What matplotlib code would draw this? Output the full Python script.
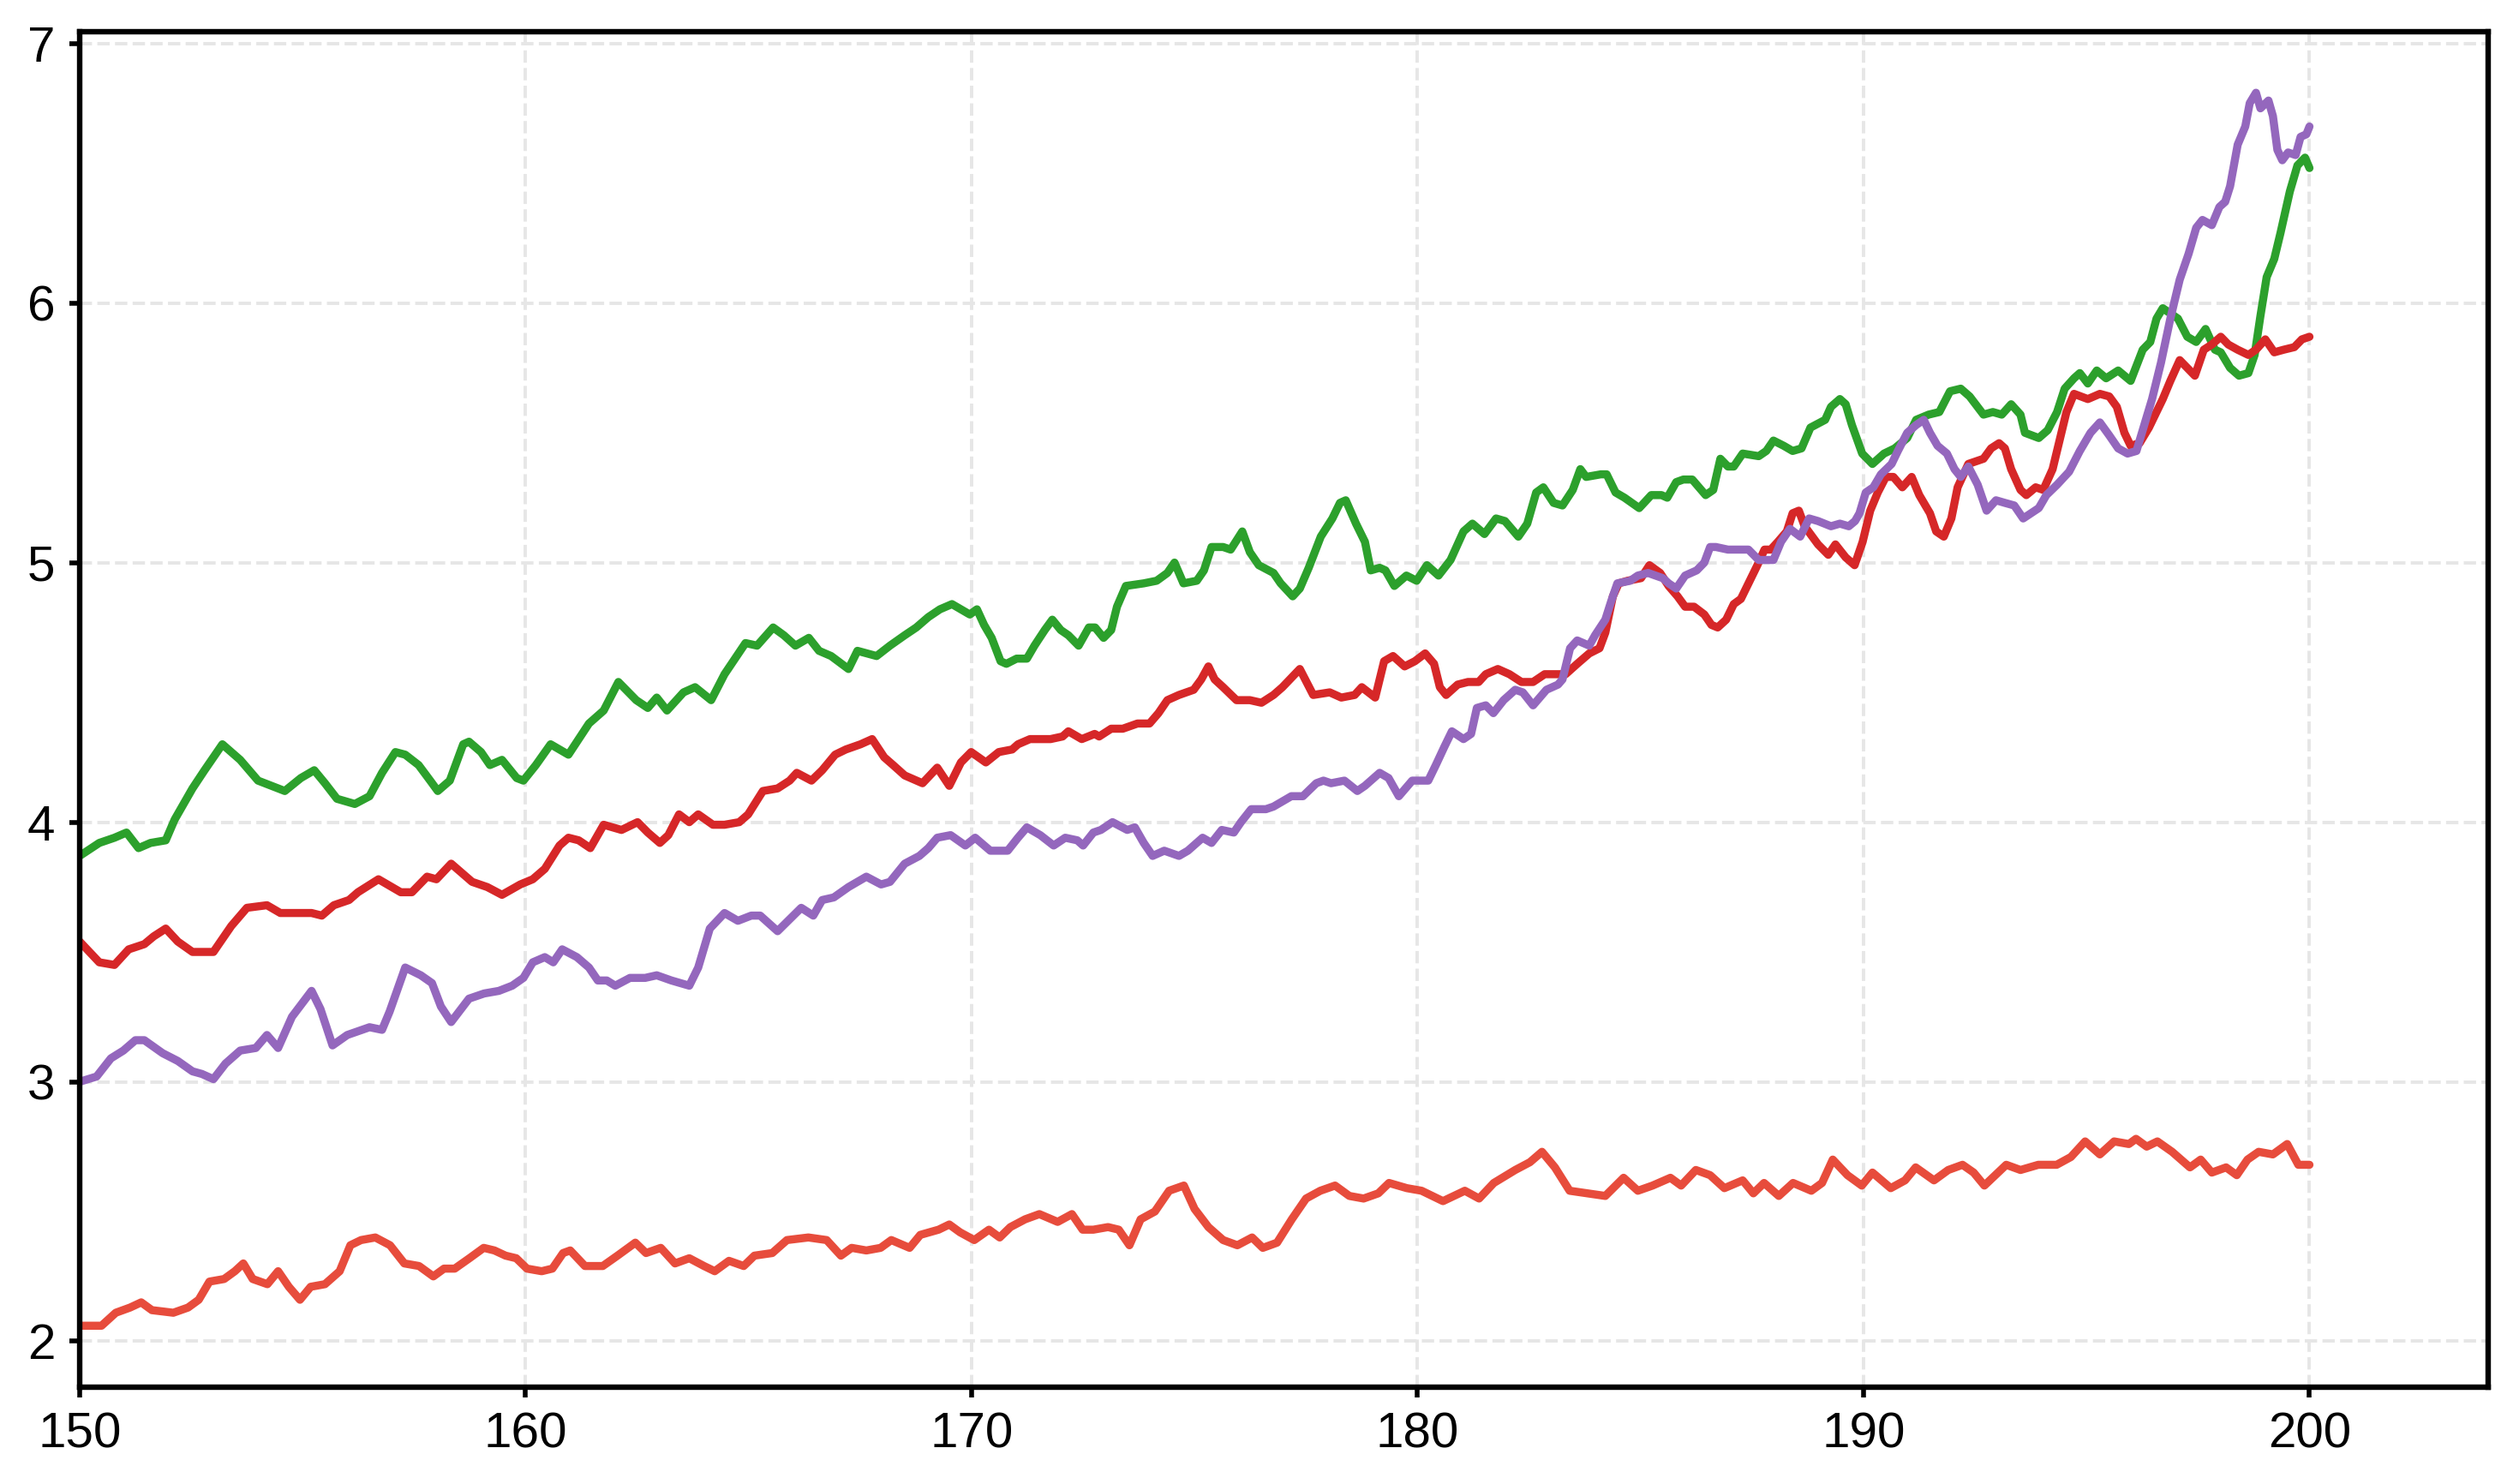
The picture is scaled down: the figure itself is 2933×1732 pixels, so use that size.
import matplotlib
matplotlib.use("Agg")
import matplotlib.pyplot as plt

# ---- data ----
green_x = [150.0, 150.44, 150.78, 151.05, 151.32, 151.59, 151.93, 152.13, 152.53, 152.8, 153.2, 153.6, 154.0, 154.3, 154.6,
           154.96, 155.26, 155.5, 155.77, 156.17, 156.5, 156.78, 157.08, 157.3, 157.6, 157.86, 158.03, 158.3, 158.6, 158.73,
           159.0, 159.2, 159.47, 159.8, 159.95, 160.23, 160.56, 160.96, 161.42, 161.75, 162.08, 162.48, 162.74, 162.94, 163.17,
           163.54, 163.8, 164.16, 164.46, 164.93, 165.19, 165.55, 165.79, 166.05, 166.35, 166.58, 166.85, 167.24, 167.44, 167.87,
           168.17, 168.5, 168.76, 169.03, 169.29, 169.56, 169.96, 170.12, 170.28, 170.45, 170.65, 170.78, 171.01, 171.24, 171.41,
           171.64, 171.81, 172.0, 172.17, 172.4, 172.63, 172.77, 172.96, 173.13, 173.26, 173.46, 173.86, 174.15, 174.39, 174.55,
           174.75, 175.05, 175.21, 175.38, 175.64, 175.81, 176.07, 176.24, 176.44, 176.77, 176.93, 177.2, 177.36, 177.56, 177.83,
           178.09, 178.26, 178.39, 178.62, 178.82, 178.95, 179.15, 179.28, 179.48, 179.75, 179.98, 180.21, 180.47, 180.74, 181.03,
           181.23, 181.5, 181.76, 181.96, 182.26, 182.46, 182.66, 182.82, 183.05, 183.25, 183.48, 183.65, 183.78, 184.11, 184.24,
           184.44, 184.64, 184.97, 185.24, 185.47, 185.6, 185.8, 185.96, 186.16, 186.46, 186.63, 186.79, 186.96, 187.09, 187.29,
           187.65, 187.82, 187.98, 188.21, 188.41, 188.61, 188.81, 189.14, 189.27, 189.47, 189.6, 189.74, 189.97, 190.2, 190.46,
           190.7, 190.98, 191.18, 191.46, 191.7, 191.94, 192.18, 192.38, 192.69, 192.9, 193.1, 193.31, 193.52, 193.62, 193.93,
           194.13, 194.34, 194.51, 194.72, 194.85, 195.03, 195.23, 195.44, 195.71, 195.99, 196.26, 196.43, 196.57, 196.71, 197.05,
           197.26, 197.46, 197.67, 197.88, 198.01, 198.22, 198.42, 198.63, 198.77, 198.9, 199.04, 199.21, 199.35, 199.56, 199.73,
           199.9, 200.0]
green_y = [3.87, 3.92, 3.94, 3.96, 3.90, 3.92, 3.93, 4.01, 4.13, 4.20, 4.30, 4.24, 4.16, 4.14, 4.12,
           4.17, 4.20, 4.15, 4.09, 4.07, 4.10, 4.19, 4.27, 4.26, 4.22, 4.16, 4.12, 4.16, 4.30, 4.31,
           4.27, 4.22, 4.24, 4.17, 4.16, 4.22, 4.30, 4.26, 4.38, 4.43, 4.54, 4.47, 4.44, 4.48, 4.43,
           4.50, 4.52, 4.47, 4.57, 4.69, 4.68, 4.75, 4.72, 4.68, 4.71, 4.66, 4.64, 4.59, 4.66, 4.64,
           4.68, 4.72, 4.75, 4.79, 4.82, 4.84, 4.80, 4.82, 4.76, 4.71, 4.62, 4.61, 4.63, 4.63, 4.68,
           4.74, 4.78, 4.74, 4.72, 4.68, 4.75, 4.75, 4.71, 4.74, 4.83, 4.91, 4.92, 4.93, 4.96, 5.00,
           4.92, 4.93, 4.97, 5.06, 5.06, 5.05, 5.12, 5.04, 4.99, 4.96, 4.92, 4.87, 4.90, 4.98, 5.10,
           5.17, 5.23, 5.24, 5.15, 5.08, 4.97, 4.98, 4.97, 4.91, 4.95, 4.93, 4.99, 4.95, 5.01, 5.12,
           5.15, 5.11, 5.17, 5.16, 5.10, 5.15, 5.27, 5.29, 5.23, 5.22, 5.28, 5.36, 5.33, 5.34, 5.34,
           5.27, 5.25, 5.21, 5.26, 5.26, 5.25, 5.31, 5.32, 5.32, 5.26, 5.28, 5.40, 5.37, 5.37, 5.42,
           5.41, 5.43, 5.47, 5.45, 5.43, 5.44, 5.52, 5.55, 5.60, 5.63, 5.61, 5.53, 5.42, 5.38, 5.42,
           5.44, 5.48, 5.55, 5.57, 5.58, 5.66, 5.67, 5.64, 5.57, 5.58, 5.57, 5.61, 5.57, 5.50, 5.48,
           5.51, 5.58, 5.67, 5.71, 5.73, 5.69, 5.74, 5.71, 5.74, 5.70, 5.82, 5.85, 5.94, 5.98, 5.94,
           5.87, 5.85, 5.90, 5.82, 5.81, 5.75, 5.72, 5.73, 5.80, 5.95, 6.10, 6.17, 6.27, 6.43, 6.53,
           6.56, 6.52]

red_x = [150.0, 150.44, 150.78, 151.1, 151.45, 151.66, 151.93, 152.2, 152.53, 152.74, 153.0, 153.4, 153.75, 154.2, 154.5,
         154.8, 155.2, 155.43, 155.7, 156.04, 156.24, 156.7, 157.2, 157.45, 157.79, 158.0, 158.33, 158.8, 159.14, 159.47,
         159.88, 160.16, 160.43, 160.76, 160.96, 161.19, 161.45, 161.75, 162.15, 162.51, 162.74, 163.01, 163.2, 163.44, 163.67,
         163.87, 164.2, 164.46, 164.79, 164.99, 165.32, 165.65, 165.92, 166.08, 166.41, 166.65, 166.94, 167.18, 167.51, 167.77,
         168.04, 168.24, 168.5, 168.9, 169.23, 169.5, 169.76, 169.99, 170.32, 170.61, 170.91, 171.04, 171.31, 171.57, 171.77,
         172.04, 172.17, 172.47, 172.76, 172.86, 173.13, 173.39, 173.72, 173.99, 174.19, 174.39, 174.65, 174.98, 175.15, 175.31,
         175.45, 175.64, 175.94, 176.24, 176.5, 176.77, 176.97, 177.36, 177.66, 178.03, 178.29, 178.59, 178.75, 179.05, 179.25,
         179.45, 179.71, 179.94, 180.17, 180.37, 180.5, 180.64, 180.9, 181.13, 181.37, 181.53, 181.8, 182.06, 182.33, 182.59,
         182.85, 183.12, 183.32, 183.58, 183.85, 184.08, 184.21, 184.38, 184.51, 184.71, 185.01, 185.2, 185.44, 185.63, 185.83,
         186.0, 186.2, 186.43, 186.59, 186.73, 186.92, 187.09, 187.25, 187.42, 187.62, 187.78, 187.92, 188.08, 188.28, 188.41,
         188.55, 188.68, 188.98, 189.21, 189.37, 189.6, 189.8, 189.98, 190.15, 190.32, 190.5, 190.67, 190.87, 191.08, 191.25,
         191.49, 191.63, 191.8, 191.97, 192.11, 192.35, 192.69, 192.86, 193.04, 193.17, 193.31, 193.52, 193.65, 193.86, 194.03,
         194.24, 194.41, 194.55, 194.72, 195.03, 195.3, 195.51, 195.68, 195.85, 195.99, 196.19, 196.4, 196.57, 196.71, 196.88,
         197.09, 197.26, 197.43, 197.63, 197.81, 198.01, 198.18, 198.39, 198.63, 198.8, 199.01, 199.21, 199.42, 199.66, 199.83,
         200.0]
red_y = [3.54, 3.46, 3.45, 3.51, 3.53, 3.56, 3.59, 3.54, 3.50, 3.50, 3.50, 3.60, 3.67, 3.68, 3.65,
         3.65, 3.65, 3.64, 3.68, 3.70, 3.73, 3.78, 3.73, 3.73, 3.79, 3.78, 3.84, 3.77, 3.75, 3.72,
         3.76, 3.78, 3.82, 3.91, 3.94, 3.93, 3.90, 3.99, 3.97, 4.00, 3.96, 3.92, 3.95, 4.03, 4.00,
         4.03, 3.99, 3.99, 4.00, 4.03, 4.12, 4.13, 4.16, 4.19, 4.16, 4.20, 4.26, 4.28, 4.30, 4.32,
         4.25, 4.22, 4.18, 4.15, 4.21, 4.14, 4.23, 4.27, 4.23, 4.27, 4.28, 4.30, 4.32, 4.32, 4.32,
         4.33, 4.35, 4.32, 4.34, 4.33, 4.36, 4.36, 4.38, 4.38, 4.42, 4.47, 4.49, 4.51, 4.55, 4.60,
         4.55, 4.52, 4.47, 4.47, 4.46, 4.49, 4.52, 4.59, 4.49, 4.50, 4.48, 4.49, 4.52, 4.48, 4.62,
         4.64, 4.60, 4.62, 4.65, 4.61, 4.52, 4.49, 4.53, 4.54, 4.54, 4.57, 4.59, 4.57, 4.54, 4.54,
         4.57, 4.57, 4.57, 4.61, 4.65, 4.67, 4.73, 4.87, 4.92, 4.93, 4.94, 4.99, 4.96, 4.91, 4.87,
         4.83, 4.83, 4.80, 4.76, 4.75, 4.78, 4.84, 4.86, 4.92, 4.99, 5.05, 5.05, 5.08, 5.12, 5.19,
         5.20, 5.14, 5.07, 5.03, 5.07, 5.02, 4.99, 5.08, 5.20, 5.27, 5.33, 5.33, 5.29, 5.33, 5.26,
         5.19, 5.12, 5.10, 5.17, 5.29, 5.38, 5.40, 5.44, 5.46, 5.44, 5.36, 5.28, 5.26, 5.29, 5.28,
         5.36, 5.48, 5.58, 5.65, 5.63, 5.65, 5.64, 5.60, 5.50, 5.45, 5.46, 5.52, 5.58, 5.63, 5.70,
         5.78, 5.75, 5.72, 5.82, 5.84, 5.87, 5.84, 5.82, 5.80, 5.82, 5.86, 5.81, 5.82, 5.83, 5.86,
         5.87]

purple_x = [150.0, 150.38, 150.7, 150.98, 151.25, 151.45, 151.86, 152.2, 152.53, 152.74, 153.0, 153.27, 153.6, 153.95, 154.2,
            154.45, 154.76, 155.2, 155.4, 155.67, 156.0, 156.5, 156.78, 156.95, 157.3, 157.65, 157.9, 158.1, 158.33, 158.73,
            159.07, 159.4, 159.7, 159.95, 160.16, 160.43, 160.62, 160.82, 161.15, 161.42, 161.62, 161.82, 162.01, 162.34, 162.68,
            162.94, 163.27, 163.67, 163.87, 164.13, 164.46, 164.76, 165.06, 165.26, 165.65, 166.18, 166.45, 166.65, 166.91, 167.24,
            167.64, 167.97, 168.17, 168.5, 168.83, 169.03, 169.23, 169.53, 169.86, 170.08, 170.42, 170.81, 171.04, 171.24, 171.54,
            171.84, 172.1, 172.37, 172.5, 172.73, 172.9, 173.16, 173.49, 173.66, 173.86, 174.06, 174.32, 174.65, 174.85, 175.18,
            175.38, 175.61, 175.88, 176.04, 176.27, 176.6, 176.77, 177.17, 177.43, 177.73, 177.89, 178.06, 178.36, 178.65, 178.82,
            179.15, 179.35, 179.58, 179.88, 180.01, 180.24, 180.41, 180.6, 180.77, 181.03, 181.2, 181.33, 181.53, 181.7, 181.93,
            182.19, 182.36, 182.59, 182.89, 183.15, 183.25, 183.42, 183.58, 183.85, 183.98, 184.21, 184.34, 184.48, 184.77, 184.94,
            185.17, 185.5, 185.63, 185.8, 186.0, 186.26, 186.43, 186.56, 186.69, 186.96, 187.16, 187.42, 187.65, 187.85, 187.98,
            188.15, 188.35, 188.58, 188.78, 188.98, 189.27, 189.47, 189.67, 189.81, 189.91, 190.05, 190.22, 190.39, 190.63, 190.77,
            190.98, 191.18, 191.35, 191.49, 191.66, 191.87, 192.04, 192.18, 192.35, 192.56, 192.76, 192.97, 193.17, 193.38, 193.58,
            193.93, 194.1, 194.34, 194.61, 194.85, 195.09, 195.3, 195.51, 195.71, 195.92, 196.12, 196.26, 196.47, 196.67, 196.88,
            197.09, 197.29, 197.46, 197.6, 197.81, 197.98, 198.11, 198.22, 198.39, 198.56, 198.66, 198.8, 198.9, 199.08, 199.18,
            199.28, 199.39, 199.52, 199.69, 199.8, 199.93, 200.0]
purple_y = [3.00, 3.02, 3.09, 3.12, 3.16, 3.16, 3.11, 3.08, 3.04, 3.03, 3.01, 3.07, 3.12, 3.13, 3.18,
            3.13, 3.25, 3.35, 3.28, 3.14, 3.18, 3.21, 3.20, 3.27, 3.44, 3.41, 3.38, 3.29, 3.23, 3.32,
            3.34, 3.35, 3.37, 3.40, 3.46, 3.48, 3.46, 3.51, 3.48, 3.44, 3.39, 3.39, 3.37, 3.40, 3.40,
            3.41, 3.39, 3.37, 3.44, 3.59, 3.65, 3.62, 3.64, 3.64, 3.58, 3.67, 3.64, 3.70, 3.71, 3.75,
            3.79, 3.76, 3.77, 3.84, 3.87, 3.90, 3.94, 3.95, 3.91, 3.94, 3.89, 3.89, 3.94, 3.98, 3.95,
            3.91, 3.94, 3.93, 3.91, 3.96, 3.97, 4.00, 3.97, 3.98, 3.92, 3.87, 3.89, 3.87, 3.89, 3.94,
            3.92, 3.97, 3.96, 4.00, 4.05, 4.05, 4.06, 4.10, 4.10, 4.15, 4.16, 4.15, 4.16, 4.12, 4.14,
            4.19, 4.17, 4.10, 4.16, 4.16, 4.16, 4.22, 4.29, 4.35, 4.32, 4.34, 4.44, 4.45, 4.42, 4.47,
            4.51, 4.50, 4.45, 4.51, 4.53, 4.55, 4.67, 4.70, 4.68, 4.72, 4.78, 4.85, 4.92, 4.93, 4.95,
            4.96, 4.94, 4.92, 4.90, 4.95, 4.97, 5.00, 5.06, 5.06, 5.05, 5.05, 5.05, 5.01, 5.01, 5.01,
            5.08, 5.13, 5.10, 5.17, 5.16, 5.14, 5.15, 5.14, 5.16, 5.19, 5.27, 5.29, 5.34, 5.38, 5.43,
            5.50, 5.53, 5.55, 5.50, 5.45, 5.42, 5.36, 5.33, 5.37, 5.30, 5.20, 5.24, 5.23, 5.22, 5.17,
            5.21, 5.26, 5.30, 5.35, 5.43, 5.50, 5.54, 5.49, 5.44, 5.42, 5.43, 5.51, 5.63, 5.77, 5.94,
            6.09, 6.19, 6.29, 6.32, 6.30, 6.37, 6.39, 6.45, 6.61, 6.68, 6.77, 6.81, 6.75, 6.78, 6.72,
            6.59, 6.55, 6.58, 6.57, 6.64, 6.65, 6.68]

orange_x = [150.0, 150.49, 150.81, 151.13, 151.38, 151.62, 152.1, 152.43, 152.67, 152.91, 153.24, 153.48, 153.67, 153.88, 154.21,
            154.45, 154.69, 154.94, 155.18, 155.5, 155.83, 156.07, 156.31, 156.63, 156.96, 157.28, 157.61, 157.93, 158.17, 158.41,
            158.74, 159.06, 159.3, 159.55, 159.79, 160.03, 160.36, 160.6, 160.84, 161.0, 161.33, 161.73, 162.06, 162.46, 162.7,
            163.03, 163.35, 163.67, 164.0, 164.24, 164.56, 164.89, 165.13, 165.53, 165.86, 166.34, 166.75, 167.07, 167.31, 167.64,
            167.96, 168.2, 168.61, 168.85, 169.26, 169.5, 169.74, 170.06, 170.39, 170.63, 170.87, 171.2, 171.52, 171.93, 172.25,
            172.49, 172.73, 173.06, 173.3, 173.54, 173.79, 174.11, 174.43, 174.76, 175.0, 175.31, 175.64, 175.96, 176.29, 176.53,
            176.85, 177.18, 177.5, 177.82, 178.15, 178.47, 178.79, 179.12, 179.36, 179.76, 180.09, 180.57, 181.06, 181.38, 181.71,
            182.19, 182.52, 182.79, 183.08, 183.41, 183.81, 184.21, 184.62, 184.94, 185.27, 185.67, 185.91, 186.24, 186.56, 186.88,
            187.29, 187.53, 187.77, 188.1, 188.42, 188.83, 189.07, 189.31, 189.64, 189.96, 190.2, 190.61, 190.93, 191.17, 191.58,
            191.9, 192.22, 192.47, 192.71, 193.2, 193.52, 193.92, 194.33, 194.65, 194.97, 195.3, 195.62, 195.95, 196.11, 196.35,
            196.59, 196.92, 197.32, 197.56, 197.81, 198.13, 198.37, 198.61, 198.86, 199.18, 199.5, 199.75, 200.0]
orange_y = [2.06, 2.06, 2.11, 2.13, 2.15, 2.12, 2.11, 2.13, 2.16, 2.23, 2.24, 2.27, 2.30, 2.24, 2.22,
            2.27, 2.21, 2.16, 2.21, 2.22, 2.27, 2.37, 2.39, 2.40, 2.37, 2.30, 2.29, 2.25, 2.28, 2.28,
            2.32, 2.36, 2.35, 2.33, 2.32, 2.28, 2.27, 2.28, 2.34, 2.35, 2.29, 2.29, 2.33, 2.38, 2.34,
            2.36, 2.30, 2.32, 2.29, 2.27, 2.31, 2.29, 2.33, 2.34, 2.39, 2.40, 2.39, 2.33, 2.36, 2.35,
            2.36, 2.39, 2.36, 2.41, 2.43, 2.45, 2.42, 2.39, 2.43, 2.40, 2.44, 2.47, 2.49, 2.46, 2.49,
            2.43, 2.43, 2.44, 2.43, 2.37, 2.47, 2.50, 2.58, 2.60, 2.51, 2.44, 2.39, 2.37, 2.40, 2.36,
            2.38, 2.47, 2.55, 2.58, 2.60, 2.56, 2.55, 2.57, 2.61, 2.59, 2.58, 2.54, 2.58, 2.55, 2.61,
            2.66, 2.69, 2.73, 2.67, 2.58, 2.57, 2.56, 2.63, 2.58, 2.60, 2.63, 2.60, 2.66, 2.64, 2.59,
            2.62, 2.57, 2.61, 2.56, 2.61, 2.58, 2.61, 2.70, 2.64, 2.60, 2.65, 2.59, 2.62, 2.67, 2.62,
            2.66, 2.68, 2.65, 2.60, 2.68, 2.66, 2.68, 2.68, 2.71, 2.77, 2.72, 2.77, 2.76, 2.78, 2.75,
            2.77, 2.73, 2.67, 2.70, 2.65, 2.67, 2.64, 2.70, 2.73, 2.72, 2.76, 2.68, 2.68]

x_ticks = [150, 160, 170, 180, 190, 200]
y_ticks = [2, 3, 4, 5, 6, 7]

series = [
    (green_x, green_y, "#2ca02c"),
    (red_x, red_y, "#d62728"),
    (purple_x, purple_y, "#9467bd"),
    (orange_x, orange_y, "#e74c3c"),
]

# ---- figure ----
plt.rcParams["font.family"] = ["Liberation Sans", "DejaVu Sans"]
fig = plt.figure(figsize=(14.665, 8.66), dpi=200)
ax = fig.add_axes([0.0317, 0.0652, 0.9583, 0.9134])

for xs, ys, c in series:
    ax.plot(xs, ys, color=c, linewidth=3.4, solid_capstyle="round", solid_joinstyle="round")

ax.set_xlim(150, 204)
ax.set_ylim(1.823, 7.045)
ax.set_xticks(x_ticks)
ax.set_yticks(y_ticks)
ax.set_xticklabels([str(t) for t in x_ticks])
ax.set_yticklabels([str(t) for t in y_ticks])

ax.grid(True, color="#e6e6e6", linestyle="--", linewidth=1.4)
ax.set_axisbelow(True)
for s in ax.spines.values():
    s.set_linewidth(2.3)
    s.set_color("black")
ax.tick_params(axis="both", direction="out", length=4.3, width=2.0, labelsize=21, pad=6, colors="black")

fig.savefig("out.png", dpi=200)
